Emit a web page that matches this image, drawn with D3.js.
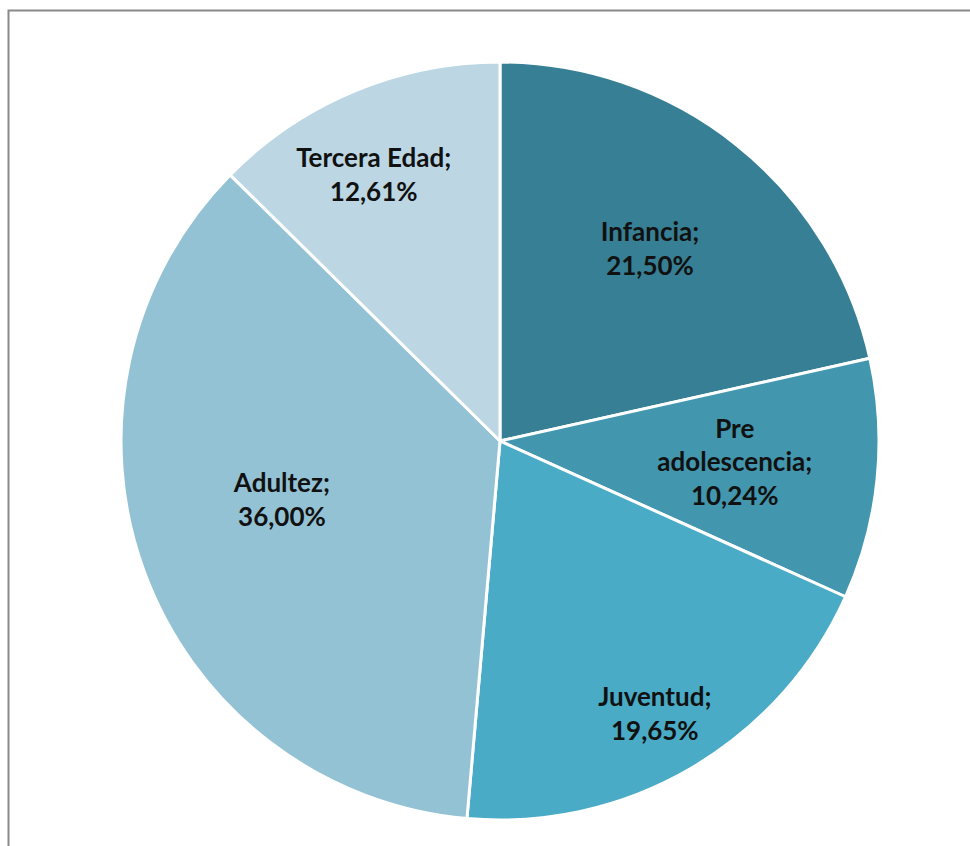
<!DOCTYPE html>
<html>
<head>
<meta charset="utf-8">
<script src="https://cdn.jsdelivr.net/npm/d3@7"></script>
<style>
  body { margin: 0; background: #fff; }
  svg { display: block; }
</style>
</head>
<body>
<svg id="chart" width="970" height="846"></svg>
<script>
// data
const categories = ["Infancia", "Pre adolescencia", "Juventud", "Adultez", "Tercera Edad"];
const values = [21.50, 10.24, 19.65, 36.00, 12.61];
const labelLines = [["Infancia;", "21,50%"], ["Pre", "adolescencia;", "10,24%"], ["Juventud;", "19,65%"], ["Adultez;", "36,00%"], ["Tercera Edad;", "12,61%"]];

const colors = ["#377f94", "#4296ad", "#4aabc6", "#94c2d5", "#bcd7e3"];
// label distance from centre (share of radius) and small angle nudge (deg)
const labelDist = [0.643, 0.622, 0.828, 0.596, 0.777];
const labelNudge = [-0.7, -0.7, 0.8, 5.1, -2.7];

const svg = d3.select("#chart");
const cx = 500, cy = 441, radius = 379;

// frame around the chart area (right/bottom edges fall outside the view)
svg.append("rect")
  .attr("x", 8.5)
  .attr("y", 10.5)
  .attr("width", 1000)
  .attr("height", 900)
  .attr("fill", "none")
  .attr("stroke", "#898989")
  .attr("stroke-width", 2);

const chart = svg.append("g").attr("transform", `translate(${cx}, ${cy})`);

const pie = d3.pie().sort(null).value((d) => d);
const arcs = pie(values);

const arc = d3.arc().innerRadius(0).outerRadius(radius);

chart.selectAll("path")
  .data(arcs)
  .enter()
  .append("path")
  .attr("d", arc)
  .attr("fill", (d, i) => colors[i])
  .attr("stroke", "#fff")
  .attr("stroke-width", 3)
  .attr("stroke-linejoin", "round");

// labels
const lineH = 33.5;
arcs.forEach((d, i) => {
  const r = radius * labelDist[i];
  const a = (d.startAngle + d.endAngle) / 2 + labelNudge[i] * Math.PI / 180;
  const x = r * Math.sin(a);
  const y = -r * Math.cos(a);
  const lines = labelLines[i];
  const t = chart.append("text")
    .attr("text-anchor", "middle")
    .attr("font-family", "Lato, 'Open Sans', sans-serif")
    .attr("font-weight", "bold")
    .attr("font-size", 26)
    .attr("fill", "#111");
  lines.forEach((ln, j) => {
    t.append("tspan")
      .attr("x", x)
      .attr("y", y + (j - (lines.length - 1) / 2) * lineH + 9)
      .text(ln);
  });
});
</script>
</body>
</html>
